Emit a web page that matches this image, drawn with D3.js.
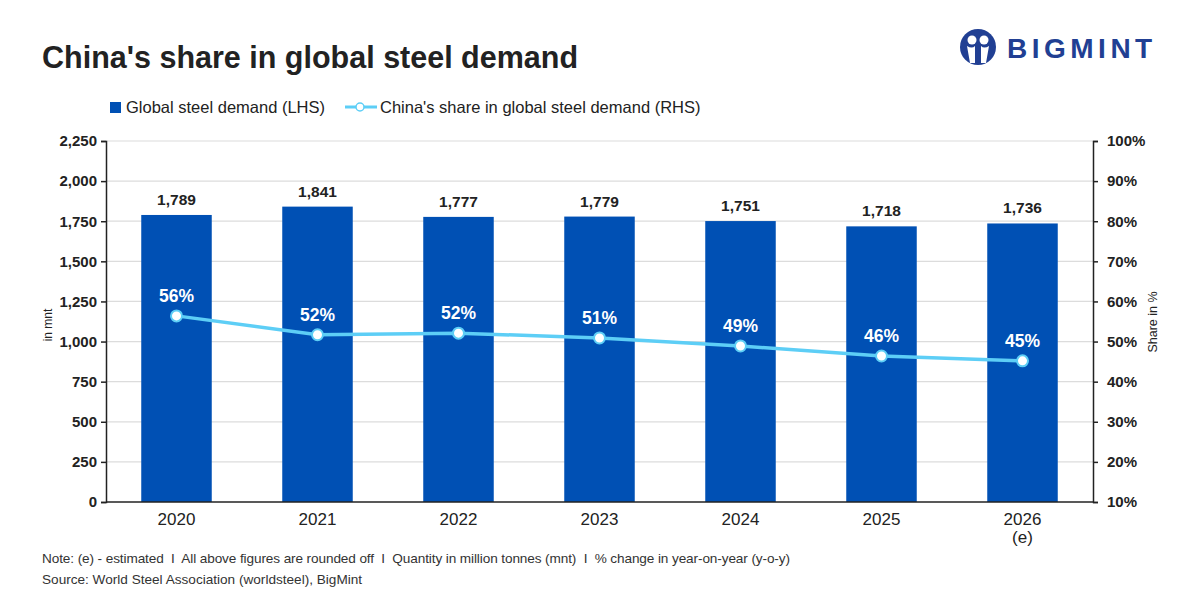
<!DOCTYPE html>
<html>
<head>
<meta charset="utf-8">
<script src="https://cdn.jsdelivr.net/npm/d3@7"></script>
<style>
  body { margin: 0; background: #fff; }
  svg text { font-family: "Liberation Sans", Arial, sans-serif; white-space: pre; }
</style>
</head>
<body>
<svg id="chart" width="1200" height="600"></svg>
<script>
// data
let years = ["2020", "2021", "2022", "2023", "2024", "2025", "2026"];
let yearNotes = ["", "", "", "", "", "", "(e)"];
let demand = [1789, 1841, 1777, 1779, 1751, 1718, 1736];
let share = [56.4, 51.7, 52.1, 50.9, 48.9, 46.4, 45.2];
let shareLabels = ["56%", "52%", "52%", "51%", "49%", "46%", "45%"];
let leftTicks = [0, 250, 500, 750, 1000, 1250, 1500, 1750, 2000, 2250];
let rightTicks = [10, 20, 30, 40, 50, 60, 70, 80, 90, 100];

const barColor = "#0050b4";
const lineColor = "#5dcef6";
const ink = "#222";

let svg = d3.select("#chart");

x = d3.scaleBand().domain(years).range([106, 1093]).paddingInner(0.5).paddingOuter(0.25);
y = d3.scaleLinear().domain([0, 2250]).range([502, 141]);
y2 = d3.scaleLinear().domain([10, 100]).range([502, 141]);

// title
svg.append("text").attr("x", 42).attr("y", 68)
  .attr("font-size", 30.5).attr("font-weight", "bold").attr("fill", ink)
  .text("China's share in global steel demand");

// logo
let logo = svg.append("g").attr("transform", "translate(978,47)");
logo.append("circle").attr("r", 18).attr("fill", "#213f93");
logo.append("circle").attr("cx", -6).attr("cy", -7).attr("r", 4.5).attr("fill", "#fff");
logo.append("circle").attr("cx", 6).attr("cy", -7).attr("r", 4.5).attr("fill", "#fff");
logo.append("path").attr("d", "M-11,-1 Q-6,2 -3,-1 L-3,16 L-8,16 Z").attr("fill", "#fff");
logo.append("path").attr("d", "M11,-1 Q6,2 3,-1 L3,16 L8,16 Z").attr("fill", "#fff");
svg.append("text").attr("x", 1007).attr("y", 58)
  .attr("font-size", 28).attr("font-weight", "bold").attr("fill", "#213f93")
  .attr("letter-spacing", 4.5).text("BIGMINT");

// legend
svg.append("rect").attr("x", 110).attr("y", 102).attr("width", 11).attr("height", 11).attr("fill", barColor);
svg.append("text").attr("x", 126).attr("y", 113).attr("font-size", 16.5).attr("fill", ink)
  .text("Global steel demand (LHS)");
svg.append("line").attr("x1", 345).attr("x2", 377).attr("y1", 107).attr("y2", 107)
  .attr("stroke", lineColor).attr("stroke-width", 3);
svg.append("circle").attr("cx", 360).attr("cy", 107).attr("r", 4)
  .attr("fill", "#fff").attr("stroke", lineColor).attr("stroke-width", 1.5);
svg.append("text").attr("x", 380).attr("y", 113).attr("font-size", 16.5).attr("fill", ink)
  .text("China's share in global steel demand (RHS)");

// gridlines
svg.append("g").selectAll("line").data(leftTicks.slice(1)).join("line")
  .attr("x1", 106).attr("x2", 1093)
  .attr("y1", d => y(d)).attr("y2", d => y(d))
  .attr("stroke", "#dcdcdc").attr("stroke-width", 1.2);

// bars
svg.append("g").selectAll("rect").data(demand).join("rect")
  .attr("x", (d, i) => x(years[i]))
  .attr("y", d => y(d))
  .attr("width", x.bandwidth())
  .attr("height", d => y(0) - y(d))
  .attr("fill", barColor);

svg.append("g").selectAll("text").data(demand).join("text")
  .attr("x", (d, i) => x(years[i]) + x.bandwidth() / 2)
  .attr("y", d => y(d) - 10)
  .attr("text-anchor", "middle").attr("font-size", 15.5).attr("font-weight", "bold").attr("fill", ink)
  .text(d => d3.format(",")(d));

// axes
let leftAxis = svg.append("g").attr("transform", "translate(106,0)")
  .call(d3.axisLeft(y).tickValues(leftTicks).tickFormat(d3.format(",")).tickSize(5).tickPadding(4));
let rightAxis = svg.append("g").attr("transform", "translate(1093,0)")
  .call(d3.axisRight(y2).tickValues(rightTicks).tickFormat(d => d + "%").tickSize(5).tickPadding(9));
[leftAxis, rightAxis].forEach(a => {
  a.select(".domain").attr("stroke", ink).attr("stroke-width", 1.5);
  a.selectAll(".tick line").attr("stroke", ink).attr("stroke-width", 1.5);
  a.selectAll(".tick text").attr("font-size", 15).attr("font-weight", "bold").attr("fill", ink)
    .attr("font-family", "Liberation Sans, Arial, sans-serif");
});
svg.append("line").attr("x1", 106).attr("x2", 1093).attr("y1", 502).attr("y2", 502)
  .attr("stroke", ink).attr("stroke-width", 1.5);

// x labels
let xl = svg.append("g").selectAll("text").data(years).join("text")
  .attr("x", d => x(d) + x.bandwidth() / 2)
  .attr("y", 525)
  .attr("text-anchor", "middle").attr("font-size", 17).attr("fill", ink);
xl.append("tspan").text(d => d);
xl.append("tspan").attr("x", d => x(d) + x.bandwidth() / 2).attr("dy", 18)
  .text((d, i) => yearNotes[i]);

// axis titles
svg.append("text").attr("transform", "translate(52,325) rotate(-90)")
  .attr("text-anchor", "middle").attr("font-size", 12).attr("fill", ink).text("in mnt");
svg.append("text").attr("transform", "translate(1157,322) rotate(-90)")
  .attr("text-anchor", "middle").attr("font-size", 12.5).attr("fill", ink).text("Share in %");

// share line
let line = d3.line()
  .x((d, i) => x(years[i]) + x.bandwidth() / 2)
  .y(d => y2(d));
svg.append("path").datum(share).attr("d", line)
  .attr("fill", "none").attr("stroke", lineColor).attr("stroke-width", 3.5);
svg.append("g").selectAll("circle").data(share).join("circle")
  .attr("cx", (d, i) => x(years[i]) + x.bandwidth() / 2)
  .attr("cy", d => y2(d))
  .attr("r", 5.5)
  .attr("fill", "#fff").attr("stroke", lineColor).attr("stroke-width", 2);
svg.append("g").selectAll("text").data(share).join("text")
  .attr("x", (d, i) => x(years[i]) + x.bandwidth() / 2)
  .attr("y", d => y2(d) - 14)
  .attr("text-anchor", "middle").attr("font-size", 17.5).attr("font-weight", "bold").attr("fill", "#fff")
  .text((d, i) => shareLabels[i]);

// notes
svg.append("text").attr("x", 42).attr("y", 563).attr("font-size", 13.6).attr("fill", "#333")
  .attr("textLength", 748).attr("lengthAdjust", "spacing")
  .text("Note: (e) - estimated  I  All above figures are rounded off  I  Quantity in million tonnes (mnt)  I  % change in year-on-year (y-o-y)");
svg.append("text").attr("x", 42).attr("y", 584).attr("font-size", 13.6).attr("fill", "#333")
  .text("Source: World Steel Association (worldsteel), BigMint");
</script>
</body>
</html>
